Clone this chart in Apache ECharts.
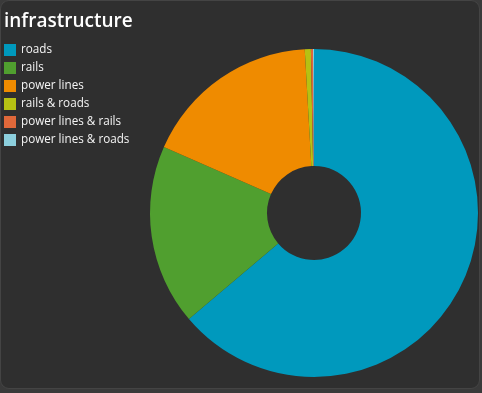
<!DOCTYPE html>
<html><head><meta charset="utf-8">
<script src="https://cdn.jsdelivr.net/npm/echarts@6/dist/echarts.min.js"></script>
<style>
html,body{margin:0;padding:0;background:#3a3a3a;}
#wrap{position:absolute;left:0;top:0;width:478px;height:387px;background:#2f2f2f;border:1px solid #444;border-radius:9px;overflow:hidden;}
#chart{width:478px;height:387px;}
</style></head>
<body><div id="wrap"><div id="chart"></div></div>
<script>
const titleText = 'infrastructure';
const categories = ['roads','rails','power lines','rails & roads','power lines & rails','power lines & roads'];
const values = [63.8, 17.8, 17.5, 0.6, 0.2, 0.1];
const colors = ['#0099bd','#509f2f','#ef8b00','#b6c113','#e0683a','#8ccfdd'];

const chart = echarts.init(document.getElementById('chart'), null, {renderer:'canvas'});
chart.setOption({
  backgroundColor: 'transparent',
  color: colors,
  animation: false,
  title: {
    text: titleText, left: 3, top: 11, padding: 0,
    textStyle: {color:'#ffffff', fontSize: 19, fontWeight: 600, fontFamily: 'Open Sans'}
  },
  legend: {
    orient: 'vertical', left: 3, top: 43, padding: 0,
    icon: 'rect', itemWidth: 12, itemHeight: 12, itemGap: 6,
    textStyle: {color:'#f4f4f4', fontSize: 11.7, fontFamily: 'Open Sans'},
    data: categories
  },
  series: [{
    type: 'pie',
    center: [313, 212],
    radius: [47, 164],
    startAngle: 90,
    clockwise: true,
    label: {show:false},
    labelLine: {show:false},
    itemStyle: {borderWidth: 0},
    emphasis: {disabled: true},
    data: categories.map((c,i)=>({name:c, value: values[i]}))
  }]
});
</script></body></html>
